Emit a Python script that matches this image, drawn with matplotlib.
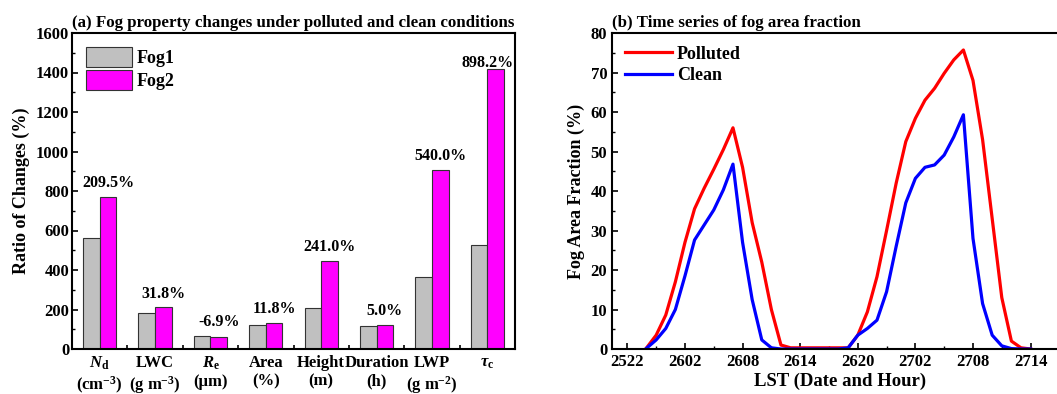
import numpy as np
import matplotlib
matplotlib.use('Agg')
import matplotlib.pyplot as plt
from matplotlib.ticker import MultipleLocator, FixedLocator

# ---------------------------------------------------------------------------
# Datos
# ---------------------------------------------------------------------------
categories = [r'$N_\mathrm{d}$' + '\n' + r'(cm$^{-3}$)',
              'LWC\n' + r'(g m$^{-3}$)',
              r'$R_\mathrm{e}$' + '\n(\u03bcm)',
              'Area\n(%)',
              'Height\n(m)',
              'Duration\n(h)',
              'LWP\n' + r'(g m$^{-2}$)',
              r'$\tau_\mathrm{c}$']
fog1 = [562, 181, 67, 121, 209, 116, 366, 525]
fog2 = [771, 211, 59, 133, 447, 121, 906, 1419]
changes = ['209.5%', '31.8%', '-6.9%', '11.8%', '241.0%', '5.0%', '540.0%', '898.2%']

# serie temporal: indice horario desde 2522
hours = np.arange(2, 43)
polluted = [0.3, 3.5, 8.6, 17.0, 27.0, 35.5, 40.7, 45.5, 50.5, 56.0,
            46.0, 32.0, 22.0, 10.0, 1.0, 0.3, 0.3, 0.3, 0.3, 0.3,
            0.3, 0.3, 3.5, 9.4, 18.3, 30.0, 42.0, 52.5, 58.4, 63.0,
            66.0, 69.8, 73.2, 75.7, 68.0, 53.0, 33.0, 13.0, 2.0, 0.3,
            0.0]
clean = [0.2, 2.3, 5.2, 10.0, 18.5, 27.6, 31.4, 35.2, 40.3, 46.8,
         27.0, 12.5, 2.3, 0.3, 0.0, 0.0, 0.0, 0.0, 0.0, 0.0,
         0.0, 0.3, 3.5, 5.2, 7.3, 14.5, 26.0, 37.0, 43.2, 46.0,
         46.6, 49.1, 53.7, 59.3, 28.0, 11.5, 3.5, 0.8, 0.1, 0.0,
         0.0]
lst_ticks = [0, 6, 12, 18, 24, 30, 36, 42]
lst_labels = ['2522', '2602', '2608', '2614', '2620', '2702', '2708', '2714']

# ---------------------------------------------------------------------------
# Estilo
# ---------------------------------------------------------------------------
plt.rcParams['font.family'] = ['Liberation Serif', 'DejaVu Serif']
plt.rcParams['font.weight'] = 'bold'
plt.rcParams['axes.labelweight'] = 'bold'
plt.rcParams['axes.titleweight'] = 'bold'
plt.rcParams['mathtext.fontset'] = 'custom'
plt.rcParams['mathtext.rm'] = 'Liberation Serif:bold'
plt.rcParams['mathtext.it'] = 'Liberation Serif:bold:italic'
plt.rcParams['mathtext.bf'] = 'Liberation Serif:bold'
plt.rcParams['axes.linewidth'] = 1.5
plt.rcParams['xtick.direction'] = 'in'
plt.rcParams['ytick.direction'] = 'in'

W, H = 1057, 394
fig = plt.figure(figsize=(W / 100, H / 100), dpi=100)

# ---------------------------------------------------------------------------
# (a) barras
# ---------------------------------------------------------------------------
ax1 = fig.add_axes([72 / W, 45 / H, 443 / W, 316 / H])
x = np.arange(1, len(categories) + 1)
bw = 0.3
ax1.bar(x - bw / 2, fog1, bw, color='#c0c0c0', edgecolor='#333333', linewidth=0.8, label='Fog1')
ax1.bar(x + bw / 2, fog2, bw, color='#ff00ff', edgecolor='#333333', linewidth=0.8, label='Fog2')

for i, txt in enumerate(changes):
    top = max(fog1[i], fog2[i])
    xt = x[i] + bw / 2
    if i == len(changes) - 1:
        xt = x[i]
    ax1.text(xt, min(top + 70, 1450), txt, ha='center', va='center', fontsize=11.5)

ax1.set_xlim(0.5, 8.5)
ax1.set_ylim(0, 1600)
ax1.set_xticks(x)
ax1.set_xticklabels(categories, fontsize=12)
ax1.xaxis.set_minor_locator(FixedLocator(x[:-1] + 0.5))
ax1.tick_params(axis='x', which='major', length=0, pad=4)
ax1.tick_params(axis='x', which='minor', length=3, width=1.2)
ax1.yaxis.set_major_locator(MultipleLocator(200))
ax1.yaxis.set_minor_locator(MultipleLocator(100))
ax1.tick_params(axis='y', which='major', length=4, width=1.2, labelsize=12, pad=2)
ax1.tick_params(axis='y', which='minor', length=2, width=1.0)
ax1.set_ylabel('Ratio of Changes (%)', fontsize=13, labelpad=4)
ax1.set_title('(a) Fog property changes under polluted and clean conditions',
              loc='left', fontsize=12.2, pad=4)
ax1.legend(loc='upper left', frameon=False, fontsize=13, handlelength=2.5,
           handleheight=1.3, labelspacing=0.15, borderaxespad=0.4, handletextpad=0.3)

# ---------------------------------------------------------------------------
# (b) serie temporal
# ---------------------------------------------------------------------------
ax2 = fig.add_axes([612 / W, 45 / H, 457 / W, 316 / H])
ax2.plot(hours, polluted, color='#ff0000', linewidth=2.3, label='Polluted')
ax2.plot(hours, clean, color='#0000ff', linewidth=2.3, label='Clean')
ax2.set_xlim(-1.6, 46)
ax2.set_ylim(0, 80)
ax2.set_xticks(lst_ticks)
ax2.set_xticklabels(lst_labels)
ax2.xaxis.set_minor_locator(MultipleLocator(3))
ax2.yaxis.set_major_locator(MultipleLocator(10))
ax2.yaxis.set_minor_locator(MultipleLocator(5))
ax2.tick_params(axis='both', which='major', length=4, width=1.2, labelsize=12)
ax2.tick_params(axis='both', which='minor', length=2, width=1.0)
ax2.set_xlabel('LST (Date and Hour)', fontsize=13.5, labelpad=2)
ax2.set_ylabel('Fog Area Fraction (%)', fontsize=13, labelpad=4)
ax2.set_title('(b) Time series of fog area fraction', loc='left', fontsize=12.2, pad=4)
ax2.legend(loc='upper left', frameon=False, fontsize=13, handlelength=2.6,
           labelspacing=0.25, borderaxespad=0.3, handletextpad=0.3)

fig.savefig('out.png', dpi=100)
